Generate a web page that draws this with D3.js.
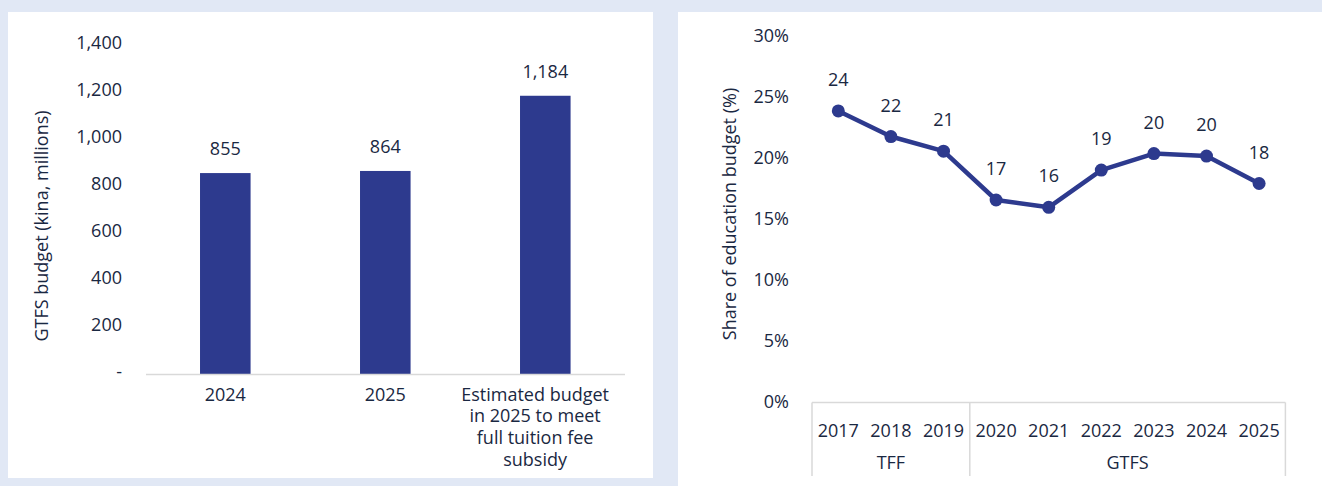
<!DOCTYPE html>
<html>
<head>
<meta charset="utf-8">
<script src="https://cdn.jsdelivr.net/npm/d3@7/dist/d3.min.js"></script>
<style>
  html, body { margin: 0; padding: 0; background: #E1E8F5; }
  svg { display: block; }
  text { font-family: "Open Sans", "Noto Sans", sans-serif; fill: #1A2842; }
</style>
</head>
<body>
<svg id="chart" width="1322" height="486"></svg>
<script>
// GTFS budget by year (kina, millions)
const budgetCategories = ["2024", "2025", "Estimated budget\nin 2025 to meet\nfull tuition fee\nsubsidy"];
const budgetValues = [855, 864, 1184];
const budgetTicks = [0, 200, 400, 600, 800, 1000, 1200, 1400];

// Fee-free programme share of the education budget (%)
const shareYears = ["2017", "2018", "2019", "2020", "2021", "2022", "2023", "2024", "2025"];
const shareValues = [23.9, 21.8, 20.6, 16.6, 16.0, 19.05, 20.4, 20.2, 17.95];
const shareTicks = [0, 5, 10, 15, 20, 25, 30];
const programmeNames = ["TFF", "GTFS"];
const programmeStartYears = ["2017", "2020"];

const NAVY = "#2D3A8E";
const AXIS_GREY = "#D9D9D9";
const FONT_SIZE = 18;

const svg = d3.select("#chart");

// Panels
svg.append("rect").attr("x", 8).attr("y", 12).attr("width", 645).attr("height", 466).attr("fill", "#fff");
svg.append("rect").attr("x", 678).attr("y", 12).attr("width", 644).attr("height", 474).attr("fill", "#fff");

// ---------- Left: budget bars ----------
const left = svg.append("g");
const xB = d3.scaleBand()
  .domain(budgetCategories)
  .range([145.3, 625.3])
  .paddingInner(0.684)
  .paddingOuter(0.342);
const yB = d3.scaleLinear().domain([0, 1400]).range([374, 45]);
const commaFmt = d3.format(",");

// y tick labels
const yAxisB = d3.axisLeft(yB)
  .tickValues(budgetTicks)
  .tickSize(0)
  .tickPadding(0)
  .tickFormat(d => d === 0 ? "-" : commaFmt(d));
const gyB = left.append("g").attr("transform", "translate(122,-2)").call(yAxisB);
gyB.select(".domain").remove();
gyB.selectAll("text").attr("font-size", FONT_SIZE).attr("font-family", null).attr("fill", null);

// bars
left.selectAll("rect.bar")
  .data(budgetValues)
  .join("rect")
  .attr("class", "bar")
  .attr("x", (d, i) => xB(budgetCategories[i]))
  .attr("width", xB.bandwidth())
  .attr("y", d => yB(d))
  .attr("height", d => yB(0) - yB(d))
  .attr("fill", NAVY);

// baseline
left.append("line")
  .attr("x1", 146).attr("x2", 625)
  .attr("y1", yB(0) + 0.5).attr("y2", yB(0) + 0.5)
  .attr("stroke", AXIS_GREY).attr("stroke-width", 1.5);

// value labels
left.selectAll("text.val")
  .data(budgetValues)
  .join("text")
  .attr("class", "val")
  .attr("x", (d, i) => xB(budgetCategories[i]) + xB.bandwidth() / 2)
  .attr("y", d => yB(d) - 18)
  .attr("text-anchor", "middle")
  .attr("font-size", FONT_SIZE)
  .text(d => commaFmt(d));

// category labels, kept inside the plot's right edge
const labelRightLimit = 609;
const catLabels = left.selectAll("text.cat")
  .data(budgetCategories)
  .join("text")
  .attr("class", "cat")
  .attr("text-anchor", "middle")
  .attr("font-size", FONT_SIZE);
catLabels.selectAll("tspan")
  .data(d => d.split("\n"))
  .join("tspan")
  .attr("x", 0)
  .attr("y", (d, i) => i * 21.7)
  .text(d => d);
catLabels.attr("transform", function (d) {
  let cxl = xB(d) + xB.bandwidth() / 2;
  const w = d3.max(d3.select(this).selectAll("tspan").nodes(), n => n.getComputedTextLength());
  if (cxl + w / 2 > labelRightLimit) cxl = labelRightLimit - w / 2;
  return `translate(${cxl},400.5)`;
});

// y title
left.append("text")
  .attr("transform", "translate(48,226) rotate(-90)")
  .attr("text-anchor", "middle")
  .attr("font-size", FONT_SIZE)
  .text("GTFS budget (kina, millions)");

// ---------- Right: share line ----------
const right = svg.append("g");
const xS = d3.scaleBand().domain(shareYears).range([812, 1285.4]);
const yS = d3.scaleLinear().domain([0, 30]).range([402.5, 36.5]);
const cx = d => xS(d) + xS.bandwidth() / 2;

const yAxisS = d3.axisLeft(yS)
  .tickValues(shareTicks)
  .tickSize(0)
  .tickPadding(0)
  .tickFormat(d => d + "%");
const gyS = right.append("g").attr("transform", "translate(789,-1)").call(yAxisS);
gyS.select(".domain").remove();
gyS.selectAll("text").attr("font-size", FONT_SIZE).attr("font-family", null).attr("fill", null);

// category table lines
const tableTop = yS(0);
const tableBottom = 476;
right.append("line")
  .attr("x1", 812).attr("x2", 1285.4)
  .attr("y1", tableTop).attr("y2", tableTop)
  .attr("stroke", AXIS_GREY).attr("stroke-width", 1.5);
const groupEdges = programmeStartYears.map(y => xS(y)).concat([xS.range()[1]]);
right.selectAll("line.sep")
  .data(groupEdges)
  .join("line")
  .attr("class", "sep")
  .attr("x1", d => d).attr("x2", d => d)
  .attr("y1", tableTop).attr("y2", tableBottom)
  .attr("stroke", AXIS_GREY).attr("stroke-width", 1.5);

// year labels
right.selectAll("text.year")
  .data(shareYears)
  .join("text")
  .attr("class", "year")
  .attr("x", d => cx(d))
  .attr("y", 436.5)
  .attr("text-anchor", "middle")
  .attr("font-size", FONT_SIZE)
  .text(d => d);

// programme labels
right.selectAll("text.prog")
  .data(programmeNames)
  .join("text")
  .attr("class", "prog")
  .attr("x", (d, i) => (groupEdges[i] + groupEdges[i + 1]) / 2)
  .attr("y", 468.7)
  .attr("text-anchor", "middle")
  .attr("font-size", FONT_SIZE)
  .text(d => d);

// line + markers
const line = d3.line().x((d, i) => cx(shareYears[i])).y(d => yS(d));
right.append("path")
  .datum(shareValues)
  .attr("d", line)
  .attr("fill", "none")
  .attr("stroke", NAVY)
  .attr("stroke-width", 4.5)
  .attr("stroke-linejoin", "round");
right.selectAll("circle.pt")
  .data(shareValues)
  .join("circle")
  .attr("class", "pt")
  .attr("cx", (d, i) => cx(shareYears[i]))
  .attr("cy", d => yS(d))
  .attr("r", 6.5)
  .attr("fill", NAVY);

// value labels
const intFmt = d3.format(".0f");
right.selectAll("text.pval")
  .data(shareValues)
  .join("text")
  .attr("class", "pval")
  .attr("x", (d, i) => cx(shareYears[i]))
  .attr("y", d => yS(d) - 25)
  .attr("text-anchor", "middle")
  .attr("font-size", FONT_SIZE)
  .text(d => intFmt(d));

// y title
right.append("text")
  .attr("transform", "translate(736,214) rotate(-90)")
  .attr("text-anchor", "middle")
  .attr("font-size", FONT_SIZE)
  .text("Share of education budget (%)");
</script>
</body>
</html>
